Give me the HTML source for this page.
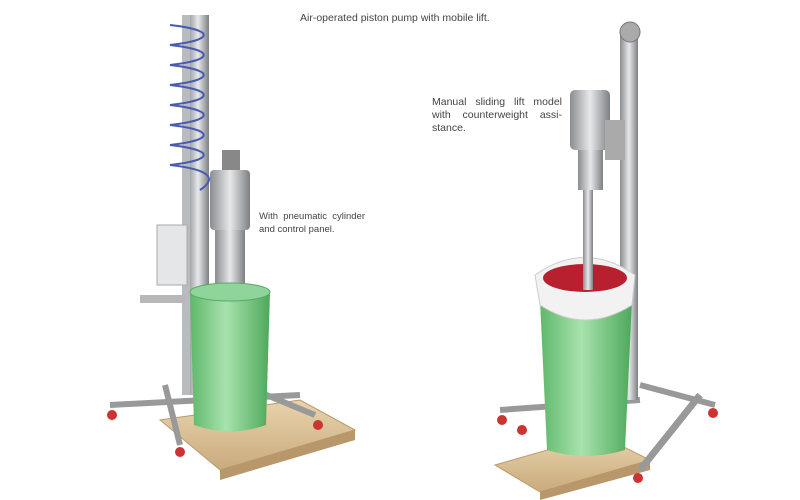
<!DOCTYPE html>
<html><head><meta charset="utf-8"><style>
html,body{margin:0;padding:0;background:#fff;}
#c{position:relative;width:800px;height:500px;overflow:hidden;font-family:"Liberation Sans",sans-serif;color:#444;}
.t{position:absolute;font-size:10.5px;line-height:13px;}
.l{display:block;text-align:justify;text-align-last:justify;white-space:nowrap;}
.l.e{text-align-last:left;}
svg{position:absolute;left:0;top:0;}
</style></head><body><div id="c">
<svg width="800" height="500" viewBox="0 0 800 500">
<defs>
<linearGradient id="steel" x1="0" x2="1"><stop offset="0" stop-color="#8a8d90"/><stop offset="0.5" stop-color="#e6e8ea"/><stop offset="1" stop-color="#7d8083"/></linearGradient>
<linearGradient id="green" x1="0" x2="1"><stop offset="0" stop-color="#5fb86a"/><stop offset="0.45" stop-color="#a8e2ae"/><stop offset="1" stop-color="#4ea85a"/></linearGradient>
<linearGradient id="wood" x1="0" x2="0" y1="0" y2="1"><stop offset="0" stop-color="#e8d3ae"/><stop offset="1" stop-color="#c9ab7c"/></linearGradient>
</defs>
<polygon points="160,420 300,400 355,430 220,470" fill="url(#wood)" stroke="#b89a6a"/>
<polygon points="220,470 355,430 355,440 220,480" fill="#b8976a"/>
<line x1="110" y1="405" x2="300" y2="395" stroke="#999" stroke-width="6"/>
<line x1="165" y1="385" x2="180" y2="445" stroke="#999" stroke-width="6"/>
<line x1="230" y1="380" x2="315" y2="415" stroke="#999" stroke-width="6"/>
<circle cx="112" cy="415" r="5" fill="#c33"/><circle cx="180" cy="452" r="5" fill="#c33"/><circle cx="318" cy="425" r="5" fill="#c33"/>
<rect x="187" y="15" width="22" height="380" fill="url(#steel)"/>
<rect x="182" y="15" width="8" height="380" fill="#b9bcbf"/>
<path d="M170,25 C215,30 215,40 170,45 C215,50 215,60 170,65 C215,70 215,80 170,85 C215,90 215,100 170,105 C215,110 215,120 170,125 C215,130 215,140 170,145 C215,150 215,160 170,165 C215,170 215,180 200,190" fill="none" stroke="#4a5ab0" stroke-width="2"/>
<rect x="157" y="225" width="30" height="60" fill="#e4e6e8" stroke="#aaa"/>
<rect x="140" y="295" width="45" height="8" fill="#b6b8ba"/>
<rect x="210" y="170" width="40" height="60" rx="4" fill="url(#steel)"/>
<rect x="222" y="150" width="18" height="20" fill="#888"/>
<rect x="215" y="230" width="30" height="60" fill="url(#steel)"/>
<path d="M190,292 L270,292 L266,425 Q230,438 194,425 Z" fill="url(#green)"/>
<ellipse cx="230" cy="292" rx="40" ry="9" fill="#8fd49a" stroke="#5aa865"/>
<polygon points="495,465 600,435 650,460 540,492" fill="url(#wood)" stroke="#b89a6a"/>
<polygon points="540,492 650,460 650,470 540,500" fill="#b8976a"/>
<line x1="500" y1="410" x2="640" y2="400" stroke="#999" stroke-width="6"/>
<line x1="640" y1="385" x2="715" y2="405" stroke="#999" stroke-width="6"/>
<line x1="700" y1="395" x2="640" y2="470" stroke="#999" stroke-width="7"/>
<circle cx="502" cy="420" r="5" fill="#c33"/><circle cx="522" cy="430" r="5" fill="#c33"/><circle cx="713" cy="413" r="5" fill="#c33"/><circle cx="638" cy="478" r="5" fill="#c33"/>
<rect x="620" y="30" width="18" height="370" fill="url(#steel)"/>
<circle cx="630" cy="32" r="10" fill="#aaa" stroke="#777"/>
<path d="M540,300 L632,300 L625,450 Q586,462 547,450 Z" fill="url(#green)"/>
<path d="M535,275 Q585,240 635,275 L632,305 Q585,335 540,305 Z" fill="#f2f2f2" stroke="#ccc"/>
<ellipse cx="585" cy="278" rx="42" ry="14" fill="#b8202f"/>
<rect x="583" y="150" width="10" height="140" fill="url(#steel)"/>
<rect x="570" y="90" width="40" height="60" rx="5" fill="url(#steel)"/>
<rect x="578" y="150" width="25" height="40" fill="url(#steel)"/>
<rect x="605" y="120" width="20" height="40" fill="#aaa"/>
</svg>
<div class="t" style="left:300px;top:12px;">Air-operated piston pump with mobile lift.</div>
<div class="t" style="left:259px;top:210px;width:106px;font-size:9.5px;"><span class="l">With pneumatic cylinder</span><span class="l e">and control panel.</span></div>
<div class="t" style="left:432px;top:96px;width:130px;"><span class="l">Manual sliding lift model</span><span class="l">with counterweight assi-</span><span class="l e">stance.</span></div>
</div></body></html>
